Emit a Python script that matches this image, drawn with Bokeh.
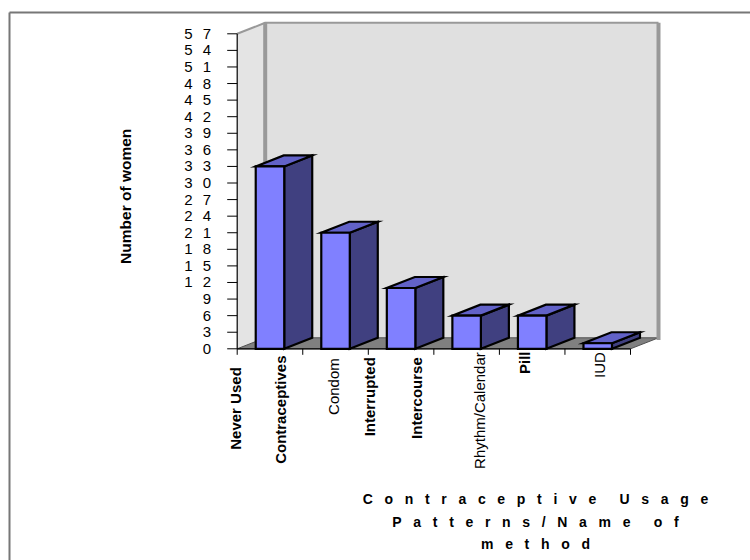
import math
from bokeh.plotting import figure
from bokeh.models import Range1d
from bokeh.core.properties import value
from bokeh.embed import file_html
from bokeh.resources import INLINE

# ---------------- data ----------------
categories = ["Never Used Contraceptives", "Condom", "Interrupted Intercourse",
              "Rhythm/Calendar", "Pill", "IUD"]
counts = [33, 21, 11, 6, 6, 1]
y_ticks = list(range(0, 58, 3))
y_tick_labels = [str(t) for t in y_ticks]
y_title = "Number of women"
x_title_lines = ["Contraceptive Usage", "Patterns/Name of", "method"]

# category label lines: (category index, text, bold)
label_lines = [(0, "Never Used", True), (0, "Contraceptives", True),
               (1, "Condom", False),
               (2, "Interrupted", True), (2, "Intercourse", True),
               (3, "Rhythm/Calendar", False),
               (4, "Pill", True), (5, "IUD", False)]

# ---------------- layout (pixels) ----------------
W, H = 750, 560
AX_PX = 236.7          # left edge of category axis
CAT_PX = 65.55         # width of one category
ZERO_PY = 348.3        # pixel row of value 0
UNIT_PY = 315.0 / 57   # pixels per unit
DEPTH_X, DEPTH_Y = 28.0, 11.0
BAR_W_PX = 28.5
FONT = "Liberation Sans"
# per label line: x offset of baseline from category centre, top end pixel row
label_dx = [-34.2, 10.8, -2.0, -31.8, 15.7, 12.7, -8.1, 1.4]
label_top = [366.7, 355.0, 357.7, 356.7, 356.7, 351.7, 351.0, 351.7]


def X(px):
    return (px - AX_PX) / CAT_PX


def Y(py):
    return (ZERO_PY - py) / UNIT_PY


p = figure(width=W, height=H, output_backend="svg", toolbar_location=None,
           x_range=Range1d(X(0), X(W)), y_range=Range1d(Y(H), Y(0)),
           x_axis_location=None, y_axis_location=None, min_border=0,
           outline_line_color=None, background_fill_color="white",
           border_fill_color="white")
p.grid.visible = False

n = len(categories)
ymax = y_ticks[-1]
DX = DEPTH_X / CAT_PX
DY = DEPTH_Y / UNIT_PY

# walls and floor
p.patch([0, DX, DX, 0], [ymax, ymax + DY, DY, 0], fill_color="#e4e4e4", line_color=None)
p.patch([DX, n + DX, n + DX, DX], [DY, DY, ymax + DY, ymax + DY],
        fill_color="#e0e0e0", line_color=None)
p.patch([0, n, n + DX, DX], [0, 0, DY, DY], fill_color="#808080",
        line_color="#505050", line_width=1)
p.line([0, DX, n + DX], [ymax, ymax + DY, ymax + DY], line_color="#999999", line_width=2)
p.segment(x0=[DX, n + DX], y0=[DY, DY - 0.4], x1=[DX, n + DX], y1=[ymax + DY, ymax + DY],
          line_color="#999999", line_width=4)

# axes
p.segment(x0=[0], y0=[0], x1=[0], y1=[ymax], line_color="black", line_width=1.2)
p.segment(x0=[X(AX_PX - 10)] * len(y_ticks), y0=y_ticks, x1=[0] * len(y_ticks), y1=y_ticks,
          line_color="black", line_width=1)
p.segment(x0=[0], y0=[0], x1=[n], y1=[0], line_color="black", line_width=1.2)
p.segment(x0=list(range(n + 1)), y0=[0] * (n + 1), x1=list(range(n + 1)),
          y1=[Y(ZERO_PY + 6)] * (n + 1), line_color="black", line_width=1)

# bars
bw = BAR_W_PX / CAT_PX
for i, v in enumerate(counts):
    l = i + 0.5 - bw / 2
    r = i + 0.5 + bw / 2
    p.patch([r, r + DX, r + DX, r], [0, DY, v + DY, v], fill_color="#404080",
            line_color="black", line_width=2.2, line_join="miter")
    p.patch([l, r, r + DX, l + DX], [v, v, v + DY, v + DY], fill_color="#6262c8",
            line_color="black", line_width=2.2, line_join="miter")
    p.patch([l, r, r, l], [0, 0, v, v], fill_color="#8080ff",
            line_color="black", line_width=2.2, line_join="miter")

# y tick labels (digits drawn spaced apart, as in the original)
tens = [s[:-1] for s in y_tick_labels]
units = [s[-1] for s in y_tick_labels]
p.text(x=[X(210.5)] * len(y_ticks), y=y_ticks, text=units, text_align="right",
       text_baseline="middle", text_font=value(FONT), text_font_size="15px",
       text_color="black")
p.text(x=[X(192.0)] * len(y_ticks), y=y_ticks, text=tens, text_align="right",
       text_baseline="middle", text_font=value(FONT), text_font_size="15px",
       text_color="black")

# category labels
for bold in (True, False):
    xs, ys, ts = [], [], []
    for k, (ci, t, b) in enumerate(label_lines):
        if b != bold:
            continue
        xs.append(ci + 0.5 + label_dx[k] / CAT_PX)
        ys.append(Y(label_top[k]))
        ts.append(t)
    p.text(x=xs, y=ys, text=ts, angle=math.pi / 2, text_align="right",
           text_baseline="alphabetic", text_font=value(FONT), text_font_size="15px",
           text_font_style="bold" if bold else "normal", text_color="black")

# axis titles
p.text(x=[X(125)], y=[Y(195.8)], text=[y_title], angle=math.pi / 2, text_align="center",
       text_baseline="alphabetic", text_font=value(FONT), text_font_size="15.5px",
       text_font_style="bold", text_color="black")

NB = "\u00a0"


def spaced(line):
    return (NB * 6).join((NB * 3).join(list(w)) for w in line.split(" "))


p.text(x=[X(535)] * 3, y=[Y(498), Y(521), Y(543)], text=[spaced(t) for t in x_title_lines],
       text_align="center", text_baseline="middle", text_font=value(FONT),
       text_font_size="14px", text_font_style="bold", text_color="black")

# chart-area border (top and left)
p.segment(x0=[X(9), X(9)], y0=[Y(12), Y(12)], x1=[X(W), X(9)], y1=[Y(12), Y(H)],
          line_color="#777777", line_width=2)

open("out.html", "w").write(file_html(p, INLINE))
